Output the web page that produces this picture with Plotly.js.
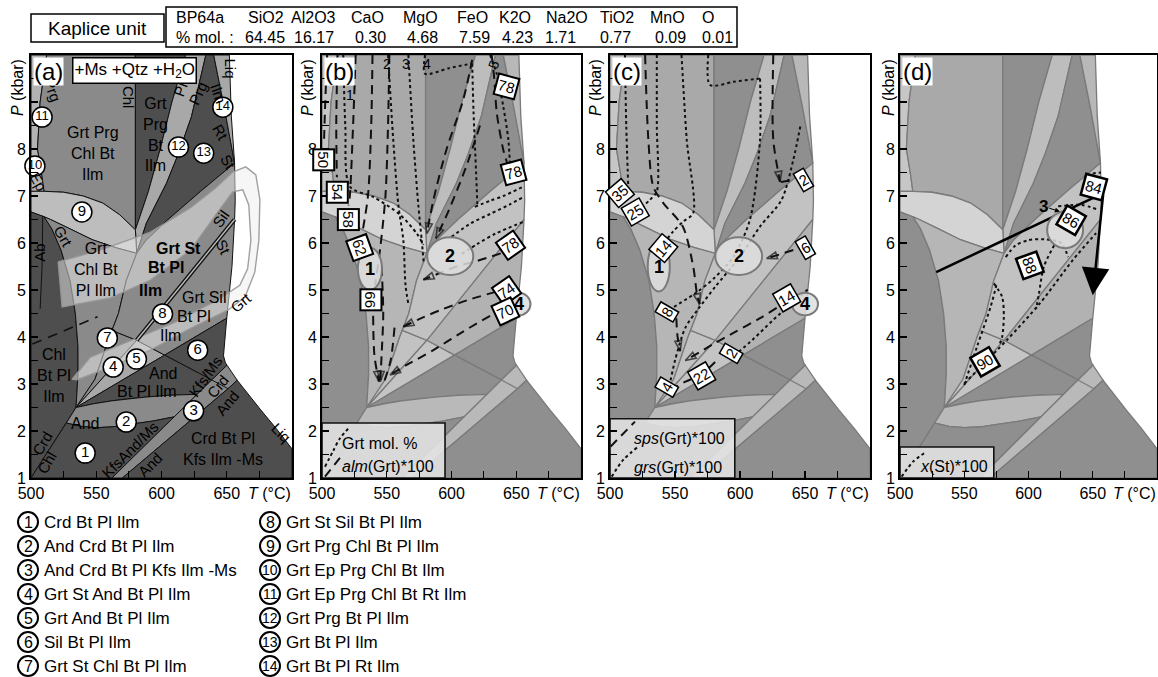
<!DOCTYPE html>
<html>
<head>
<meta charset="utf-8">
<script src="https://cdn.plot.ly/plotly-3.0.1.min.js"></script>
<style>
html,body{margin:0;padding:0;background:#ffffff;}
#chart{width:1158px;height:677px;}
</style>
</head>
<body>
<div id="chart"></div>
<script>
// ================= DATA =================
const unitName = 'Kaplice unit';
const sampleName = 'BP64a';
const oxides = ['SiO2','Al2O3','CaO','MgO','FeO','K2O','Na2O','TiO2','MnO','O'];
const oxideMol = ['64.45','16.17','0.30','4.68','7.59','4.23','1.71','0.77','0.09','0.01'];

const tTicks = [500,525,550,575,600,625,650,675,700];
const tTickText = ['500',' ','550',' ','600',' ','650',' ',' '];
const pTicks = [1,1.5,2,2.5,3,3.5,4,4.5,5,5.5,6,6.5,7,7.5,8,8.5,9,9.5,10];
const pTickText = ['1',' ','2',' ','3',' ','4',' ','5',' ','6',' ','7',' ','8',' ',' ',' ',' '];

// ---- pseudosection fields [T (°C), P (kbar)] ----
const fTopStrip = [[500,10],[512,10],[507,9],[505,8],[508,7.5],[510,7.1],[500,7.1]];
const fGrtPrgChlBtIlm = [[512,10],[580,10],[580,6.28],[568,6.6],[555,6.85],[540,7.0],[525,7.08],[510,7.1],[508,7.5],[505,8],[507,9]];
const fGrtPrgBtIlm = [[580,10],[618.5,10],[608,9],[599,8],[590,7.1],[580,6.28]];
const fGrtPrgBtPlIlm = [[618.5,10],[634,10],[623,8.69],[613,7.9],[603.8,7.27],[588.4,6.42],[581,5.78],[580,6.28],[590,7.1],[599,8],[608,9]];
const fGrtBtPlIlm = [[634,10],[640,10],[648,8.9],[656,7.7],[630,7.1],[605,6.5],[588,6.05],[581,5.78],[588.4,6.42],[603.8,7.27],[613,7.9],[623,8.69]];
const fGrtBtPlRtIlm = [[640,10],[652,10],[653.5,8.7],[655.6,7.8],[656,7.7],[648,8.9]];
const fGrtPrgChlBtPlIlm = [[500,7.1],[510,7.1],[525,7.08],[540,7.0],[555,6.85],[568,6.6],[580,6.28],[581,5.78],[565,5.9],[547,6.07],[530,6.3],[515,6.5],[500,6.66]];
const fChlBtPlIlm = [[500,6.66],[510,6.56],[516,6.3],[523,5.85],[530,5.2],[534,4.5],[536,3.8],[536,3.2],[534.5,2.5],[500,1]];
const fGrtChlBtPlIlm = [[510,6.56],[515,6.5],[530,6.3],[547,6.07],[565,5.9],[581,5.78],[573,5.2],[567,4.5],[560,4.0],[549,3.1],[534.5,2.5],[536,3.2],[536,3.8],[534,4.5],[530,5.2],[523,5.85],[516,6.3]];
const fGrtStAndBtPlIlm = [[534.5,2.5],[581,3.93],[562,4.14],[560,4.0],[549,3.1]];
const fGrtAndBtPlIlm = [[534.5,2.5],[602.4,3.615],[581,3.93]];
const fGrtStBtPlIlm = [[581,5.78],[588,6.05],[605,6.5],[630,7.1],[656,7.7],[656.5,6.9],[656,6.5],[581,3.93],[562,4.14],[567,4.5],[573,5.2]];
const fGrtSilBtPlIlm = [[581,3.93],[656,6.5],[654,5.5],[650,4.4],[602.4,3.615]];
const fSilBtPlIlm = [[602.4,3.615],[650,4.4],[647.5,3.6],[649,3.45],[650.2,3.4],[638.5,3.086]];
const fAndBtPlIlm = [[534.5,2.5],[602.4,3.615],[638.5,3.086],[627.3,2.78],[605,2.76],[587.2,2.72],[575,2.69],[561.5,2.64],[548,2.58]];
const fAndCrdBtPlIlm = [[534.5,2.5],[548,2.58],[561.5,2.64],[575,2.69],[587.2,2.72],[605,2.76],[627.3,2.78],[609.7,2.3],[593,2.21],[575.6,2.14],[563,2.09],[550,2.07],[538,2.1],[527,2.17]];
const fCrdBtPlIlm = [[500,1],[562,1],[609.7,2.3],[593,2.21],[575.6,2.14],[563,2.09],[550,2.07],[538,2.1],[527,2.17]];
const fAndCrdBtPlKfsIlm = [[562,1],[570,1],[651,2.9],[658,3.08],[650.2,3.4],[638.5,3.086]];
const fCrdBtPlKfsIlm = [[570,1],[700,1],[700,1.62],[688,2.05],[676,2.45],[660,3.0],[658,3.08],[651,2.9]];

const lnKfsMs = [[638.5,3.086],[651,2.9]];
const lnSil = [[581,3.93],[656,6.5]];
const lnAb = [[509,6.58],[508.5,5.5],[507,4.6]];
const lnDashA = [[501,3.85],[551,4.43]];

// translucent reaction-band overlay of panel (a)
const overlayBand = [[520.8,5.6],[553.1,5.85],[591.5,6.23],[622.3,6.75],[641.5,7.17],[654.6,7.51],[664.6,7.62],[672.3,7.45],[675.4,6.92],[674.6,6.06],[671.5,5.38],[664,4.85],[650.8,4.57],[620,4.15],[591.5,3.72],[560.8,3.36],[535.4,3.09],[531.5,3.1],[545.4,3.57],[578.5,3.94],[609.2,4.3],[643.1,4.79],[660,5.1],[666,5.45],[668.5,6.06],[666.9,6.81],[662.3,7.13],[654.6,7.09],[641.5,6.6],[622.3,5.85],[591.5,5.21],[560.8,4.83],[523.8,4.64]];

// numbered field markers of panel (a)
const fieldNo = ['1','2','3','4','5','6','7','8','9','10','11','12','13','14'];
const fieldNoT = [541.5,573,624.6,563,580.8,627.7,558.5,600.8,539,503,508.5,613,632.3,647];
const fieldNoP = [1.53,2.19,2.43,3.36,3.53,3.72,3.98,4.49,6.66,7.64,8.68,8.04,7.91,8.89];
const fieldNames = ['Crd Bt Pl Ilm','And Crd Bt Pl Ilm','And Crd Bt Pl Kfs Ilm -Ms','Grt St And Bt Pl Ilm','Grt And Bt Pl Ilm','Sil Bt Pl Ilm','Grt St Chl Bt Pl Ilm','Grt St Sil Bt Pl Ilm','Grt Prg Chl Bt Pl Ilm','Grt Ep Prg Chl Bt Ilm','Grt Ep Prg Chl Bt Rt Ilm','Grt Prg Bt Pl Ilm','Grt Bt Pl Ilm','Grt Bt Pl Rt Ilm'];

// panel (a) field labels
const aLabText = ['Prg','Chl','Pl','Prg','Ilm','Liq','Rt','St','Ep','Ab','Grt','Grt Prg<br>Chl Bt<br>Ilm','Grt<br>Prg<br>Bt<br>Ilm','Grt<br>Chl Bt<br>Pl Ilm','<b>Grt St</b>','<b>Bt Pl</b>','<b>Ilm</b>','Sil','St','Grt Sil','Bt Pl','Ilm','Grt','Chl<br>Bt Pl<br>Ilm','And','Bt Pl Ilm','Kfs/Ms','Crd','And','And','Crd','Chl','KfsAnd/Ms','And','Crd Bt Pl<br>Kfs Ilm -Ms','Liq'];
const aLabT = [516.2,574.6,614.6,627.7,643.8,653,645.4,651.5,505.4,506.9,524.6,547.7,595.4,550,613.1,603.1,591.5,645.4,647.7,632.3,624.6,606.9,660.8,518,601.5,589.2,633.8,643.1,650.8,541.5,508.5,512.3,576.2,591.5,646.9,691.5];
const aLabP = [9.26,9.1,9.26,9.19,9.19,9.72,8.36,7.72,7.3,5.79,6.13,7.91,8.3,5.43,5.89,5.47,5.0,6.53,5.91,4.85,4.43,4.04,4.74,3.19,3.23,2.83,3.15,2.94,2.6,2.17,1.74,1.32,1.6,1.28,1.62,1.96];
const aLabAng = [70,90,-70,-65,70,90,60,60,60,-90,60,0,0,0,0,0,0,-55,65,0,0,0,-40,0,0,0,-55,-50,-50,0,-60,-60,-45,-45,0,45];

// ---- panel (b): Grt mode (dotted) and alm(Grt)*100 (dashed) ----
const bGrt1 = [[516.4,10],[518,8.5],[521.5,7.2],[539.6,6.98],[560.3,6.6],[573.2,6.2],[578.3,5.96]];
const bGrt2 = [[551,10],[555,8.2],[559,6.8],[562.8,6.06],[564.5,5.1],[566.7,4.7]];
const bGrt3 = [[566.7,10],[570.5,8.2],[574.4,6.8],[577,6.06],[578.5,5.6]];
const bGrt4 = [[579.6,10],[579.6,9.6],[598,9.72],[616,9.82]];
const bGrt4b = [[616,9.82],[617,8.8],[619,7.5],[620,6.8]];
const bGrt5 = [[629.8,10],[634.9,9.6],[640,8.9],[643.9,8.2],[645.2,7.62]];
const bGrtSt1 = [[600,6.13],[615,6.42],[630,6.62],[645,6.82],[655.5,6.98]];
const bGrtSt2 = [[618,6.77],[630,6.9],[640,7.0],[655.5,7.2]];
const bGrtSt3 = [[607.9,5.77],[620,5.98],[634,6.2],[655.5,6.45]];
const bGrtNo = ['1','2','3','4','5'];
const bGrtNoT = [521.6,549.9,564.8,581,633];
const bGrtNoP = [9.15,9.8,9.8,9.8,9.8];

const bAlm50 = [[504,10],[502.5,9],[501.5,8.1]];
const bAlm54 = [[512,10],[511,8.5],[511.5,7.4]];
const bAlm58 = [[526,10],[524,8.5],[521.5,7.0],[520.5,6.8]];
const bAlm62 = [[539,10],[538,8.5],[535.5,7.0],[531,6.2]];
const bAlm66 = [[552,10],[551,8.5],[549,7.0],[545,5.9],[541,5.1]];
const bAlm66b = [[539.5,4.45],[540.5,3.6],[544,3.05]];
const bAlm66c = [[546,5.5],[547.3,4.5],[546,3.6],[545,3.05]];
const bAlm66d = [[556,4.2],[553,3.5],[548,3.05]];
const bAlm78a = [[631,10],[633,9.5],[635,8.76],[640,7.98],[643,7.7]];
const bAlm78b = [[638,5.78],[620,5.62],[604,5.5],[590,5.35],[578.3,5.22]];
const bAlm74 = [[634,4.96],[612,4.78],[591.2,4.57],[575,4.38],[562.8,4.22]];
const bAlm70 = [[629.8,4.45],[608,4.1],[586,3.72],[565,3.4],[552.5,3.19]];
const bAlmS1 = [[616,9.9],[609,9.04],[596,7.98],[586,6.91],[581,6.2]];
const bAlmS2 = [[622,8.5],[611,7.6],[598,6.7],[588,6.1]];
const bAlmLab = ['50','54','58','62','66','78','78','78','74','70'];
const bAlmLabT = [501.5,511.6,520,529,537.5,642.7,647.8,645.2,642.7,641.4];
const bAlmLabP = [7.76,7.09,6.49,5.9,4.79,9.33,7.51,5.95,4.99,4.54];
const bAlmLabAng = [90,90,90,70,90,15,-15,-35,-35,-25];

// ellipses (assemblages 1, 2, 4 in b, c; 3 in d)
const ellBT = [537,599,652], ellBP = [5.45,5.72,4.7], ellBrT = [9.3,17.8,9], ellBrP = [0.45,0.4,0.24], ellBLab = ['1','2','4'];
const ellCT = [537.5,599,650], ellCP = [5.5,5.72,4.7], ellCrT = [8.5,18,10], ellCrP = [0.53,0.4,0.24], ellCLab = ['1','2','4'];
const ellDT = [628.5], ellDP = [6.28], ellDrT = [14], ellDrP = [0.39];

// ---- panel (c): sps(Grt)*100 (dashed) and grs(Grt)*100 (dotted) ----
const cSps1 = [[527,10],[529.5,8.2],[533.3,7.2],[541,6.85],[556,6.35],[564,5.5],[567,4.9],[569,4.7]];
const cSps2 = [[625.6,10],[625.6,8.2],[630.8,7.3]];
const cSps2b = [[631.5,7.3],[640,7.34]];
const cSps3 = [[641,5.85],[620.5,5.67]];
const cSps4 = [[628.2,4.62],[615.4,4.4],[597,4.12],[579.5,3.85],[558,3.5]];
const cSps5 = [[546,2.87],[558,3.05],[570,3.2],[582,3.5]];
const cSps6 = [[551,4.4],[552,4.0],[554,3.7]];
const cGrs35 = [[511.5,10],[512.5,8.5],[514,7.25]];
const cGrs25 = [[536,10],[536,8.5],[536,7.1],[530,6.9],[523,6.72]];
const cGrs14 = [[555,10],[559,8.2],[564,6.64],[556,6.45],[548.7,6.25],[543,6.05]];
const cGrs4top = [[575.6,10],[577,9.36],[595,9.43],[615.4,9.5]];
const cGrsA = [[615.4,9.5],[615.4,8.2],[607.7,6.5],[595,5.71],[580,5.25],[566.7,4.95],[548,4.62]];
const cGrsB = [[646.4,8.48],[641,7.77],[632,6.92],[615.4,6.35],[600,5.71],[581,5.07],[568,4.6],[558,4.2],[550,3.5],[546,3.0]];
const cGrs2 = [[595.6,3.6],[610,3.95],[625,4.35],[640,4.72],[653.8,5.05]];
const cLab = ['35','25','14','8','4','22','2','14','2','6'];
const cLabT = [507.7,519.2,541,543.6,543.6,570.5,593.6,635.9,648.7,650];
const cLabP = [7.06,6.67,5.9,4.54,2.94,3.16,3.65,4.82,7.34,5.89];
const cLabAng = [-40,-30,-50,-60,-60,-30,-60,-30,-30,-30];

// ---- panel (d): x(St)*100 (dotted) and P-T path ----
const dSt84a = [[650,7.48],[656.4,7.5]];
const dSt84b = [[623.1,6.78],[641,6.81],[655.1,6.7]];
const dSt86 = [[582.3,5.7],[590,5.95],[600,6.06],[612,6.08],[625.4,6.0],[630.8,5.7]];
const dSt88a = [[573.1,5.14],[579.5,4.85],[580.8,4.43],[579.5,4.0],[577.7,3.86]];
const dSt88b = [[620,5.95],[612,5.5],[608,4.9],[606,4.6]];
const dSt90a = [[550,2.98],[560,3.8],[570.5,4.64],[575,5.1]];
const dSt90b = [[550,3.01],[583.3,3.94],[609,4.72],[634.6,5.64],[652.6,6.21]];
const dLab = ['84','86','88','90'];
const dLabT = [650.8,632.8,601.5,565.9];
const dLabP = [7.2,6.48,5.52,3.47];
const dLabAng = [15,30,70,-30];
const pathT = [528.2,658.2,650];
const pathP = [5.38,7.06,4.89];

// legend boxes in b, c, d
const boxB = [[500,1],[595,1],[595,2.17],[500,2.17]];
const boxC = [[500,1],[596,1],[596,2.26],[500,2.26]];
const boxD = [[500,1],[573,1],[573,1.66],[500,1.66]];
const legSampleBdot = [[502.3,1.24],[508.7,1.58],[514,1.85],[521.6,2.09]];
const legSampleBdash = [[502.3,1.03],[516.5,1.52]];
const legSampleCdash = [[500.5,1.67],[519.2,2.2]];
const legSampleCdot = [[501.3,1.03],[510.3,1.39],[521.8,1.67]];
const legSampleDdot = [[501.3,1.03],[510.3,1.35],[520.5,1.56]];

// ================= STYLE / BUILD =================
const W = 1158, H = 677;
const PX = x => x / W, PY = y => 1 - y / H;
const FONT = 'Liberation Sans, Arial, Helvetica, sans-serif';
const panelL = [31, 322, 610, 900], panelR = [292, 581, 870, 1157];
const AX = [{x:'x',y:'y'},{x:'x2',y:'y2'},{x:'x3',y:'y3'},{x:'x4',y:'y4'}];

const fieldList = [
  [fTopStrip,'#b3b3b3','#c6c6c6'],
  [fGrtPrgChlBtIlm,'#8a8a8a','#a9a9a9'],
  [fGrtPrgBtIlm,'#4e4e4e','#8f8f8f'],
  [fGrtPrgBtPlIlm,'#a8a8a8','#bdbdbd'],
  [fGrtBtPlIlm,'#4e4e4e','#8f8f8f'],
  [fGrtBtPlRtIlm,'#a8a8a8','#b8b8b8'],
  [fGrtPrgChlBtPlIlm,'#bdbdbd','#d4d4d4'],
  [fChlBtPlIlm,'#4e4e4e','#8f8f8f'],
  [fGrtChlBtPlIlm,'#8a8a8a','#b6b6b6'],
  [fGrtStAndBtPlIlm,'#8a8a8a','#c2c2c2'],
  [fGrtAndBtPlIlm,'#a8a8a8','#c4c4c4'],
  [fGrtStBtPlIlm,'#8a8a8a','#c2c2c2'],
  [fGrtSilBtPlIlm,'#8a8a8a','#b2b2b2'],
  [fSilBtPlIlm,'#4e4e4e','#8f8f8f'],
  [fAndBtPlIlm,'#4e4e4e','#8f8f8f'],
  [fAndCrdBtPlIlm,'#8a8a8a','#b9b9b9'],
  [fCrdBtPlIlm,'#4e4e4e','#8f8f8f'],
  [fAndCrdBtPlKfsIlm,'#8a8a8a','#b9b9b9'],
  [fCrdBtPlKfsIlm,'#4e4e4e','#8f8f8f']
];

const traces = [];
const ann = [];
const shp = [];
const closed = pts => pts.concat([pts[0]]);

function addPoly(pts, ax, fill, lc, lw) {
  const c = closed(pts);
  traces.push({type:'scatter', mode: lw > 0 ? 'lines' : 'none', x:c.map(p=>p[0]), y:c.map(p=>p[1]),
    fill:'toself', fillcolor:fill, line:{color:lc || fill, width:lw || 0}, xaxis:ax.x, yaxis:ax.y,
    hoverinfo:'skip', showlegend:false});
}
function addLine(pts, ax, color, width, dash, smooth, arrow) {
  const t = {type:'scatter', mode: arrow ? 'lines+markers' : 'lines', x:pts.map(p=>p[0]), y:pts.map(p=>p[1]),
    line:{color:color, width:width, dash:dash || 'solid', shape: smooth ? 'spline' : 'linear', smoothing: 0.8},
    xaxis:ax.x, yaxis:ax.y, hoverinfo:'skip', showlegend:false};
  if (arrow) {
    t.marker = {symbol:'arrow-open', angleref:'previous', color:color,
      size: pts.map((p, k) => k === pts.length - 1 ? 11 : 0), line:{color:color, width:1.6}};
  }
  traces.push(t);
}
function txt(ax, T, P, text, opts) {
  ann.push(Object.assign({xref:ax.x, yref:ax.y, x:T, y:P, text:text, showarrow:false,
    xanchor:'center', yanchor:'middle',
    font:{family:FONT, size:16, color:'black'}}, opts || {}));
}
function ptxt(px, py, text, opts) {
  ann.push(Object.assign({xref:'paper', yref:'paper', x:PX(px), y:PY(py), text:text, showarrow:false,
    xanchor:'center', yanchor:'middle',
    font:{family:FONT, size:16, color:'black'}}, opts || {}));
}
function boxLab(ax, T, P, text, ang, bw) {
  ann.push({xref:ax.x, yref:ax.y, x:T, y:P, text:text, showarrow:false, textangle:ang,
    xanchor:'center', yanchor:'middle',
    font:{family:FONT, size:15, color:'black'}, bgcolor:'white', bordercolor:'black', borderwidth:bw || 2, borderpad:1});
}
function ellipse(ax, cT, cP, rT, rP) {
  shp.push({type:'circle', xref:ax.x, yref:ax.y, x0:cT - rT, x1:cT + rT, y0:cP - rP, y1:cP + rP,
    fillcolor:'rgba(222,222,222,0.85)', line:{color:'#7a7a7a', width:2}, layer:'above'});
}

// ---- fields in all four panels ----
AX.forEach((ax, i) => {
  fieldList.forEach(f => {
    if (i === 0) addPoly(f[0], ax, f[1], '#111111', 1);
    else addPoly(f[0], ax, f[2], '#7a7a7a', 1.3);
  });
  if (i === 0) {
    addLine(lnKfsMs, ax, '#111111', 1);
    addLine(lnAb, ax, '#111111', 1);
  } else {
    addLine(lnKfsMs, ax, '#7a7a7a', 1.3);
  }
});

// ---- panel (a) overlays ----
const A = AX[0];
addPoly(overlayBand, A, 'rgba(238,238,238,0.5)', 'rgba(150,150,150,0.9)', 1.4);
addLine(lnSil, A, '#111111', 4.2);
addLine(lnSil, A, '#bdbdbd', 1.4);
addLine(lnDashA, A, '#111111', 1.6, '10px,7px');
traces.push({type:'scatter', mode:'markers+text', x:fieldNoT, y:fieldNoP, text:fieldNo,
  textposition:'middle center', cliponaxis:false,
  textfont:{family:FONT, size:fieldNo.map(s => s.length > 1 ? 13 : 15), color:'black'},
  marker:{size:20, color:'white', line:{color:'black', width:1.5}},
  xaxis:A.x, yaxis:A.y, hoverinfo:'skip', showlegend:false});
aLabText.forEach((t, i) => {
  txt(A, aLabT[i], aLabP[i], t, {textangle:aLabAng[i], font:{family:FONT, size:aLabAng[i] === 0 ? 16 : 15, color:'black'}});
});

// ---- panel (b) ----
const B = AX[1];
[bGrt1,bGrt2,bGrt3,bGrt4,bGrt4b,bGrt5,bGrtSt1,bGrtSt2,bGrtSt3].forEach(l => addLine(l, B, '#111111', 2, 'dot', true));
[bAlm50,bAlm54,bAlm58,bAlm62,bAlm66,bAlm66d,bAlm78a].forEach(l => addLine(l, B, '#111111', 2, '9px,6px', true));
[bAlm66b,bAlm66c,bAlm78b,bAlm74,bAlm70,bAlmS1,bAlmS2].forEach(l => addLine(l, B, '#111111', 2, '9px,6px', true, true));
bGrtNo.forEach((t, i) => txt(B, bGrtNoT[i], bGrtNoP[i], t, {font:{family:FONT, size:14, color:'black'}, textangle: i === 4 ? -70 : 0}));
ellBT.forEach((t, i) => { ellipse(B, t, ellBP[i], ellBrT[i], ellBrP[i]); });
bAlmLab.forEach((t, i) => boxLab(B, bAlmLabT[i], bAlmLabP[i], t, bAlmLabAng[i]));
ellBT.forEach((t, i) => txt(B, t, ellBP[i], '<b>' + ellBLab[i] + '</b>', {font:{family:FONT, size:18, color:'black'}}));
addPoly(boxB, B, 'rgba(228,228,228,0.88)', '#111111', 1.6);
addLine(legSampleBdot, B, '#111111', 2, 'dot', true);
addLine(legSampleBdash, B, '#111111', 2, '9px,6px');
txt(B, 514, 1.74, 'Grt mol. %', {xanchor:'left'});
txt(B, 514, 1.24, '<i>alm</i>(Grt)*100', {xanchor:'left'});

// ---- panel (c) ----
const C = AX[2];
[cGrs35,cGrs25,cGrs14,cGrs4top,cGrsA,cGrsB,cGrs2].forEach(l => addLine(l, C, '#111111', 2, 'dot', true));
[cSps5,cSps2b].forEach(l => addLine(l, C, '#111111', 2, '9px,6px', true));
[cSps1,cSps2,cSps3,cSps4,cSps6].forEach(l => addLine(l, C, '#111111', 2, '9px,6px', true, true));
ellCT.forEach((t, i) => { ellipse(C, t, ellCP[i], ellCrT[i], ellCrP[i]); });
cLab.forEach((t, i) => boxLab(C, cLabT[i], cLabP[i], t, cLabAng[i], 1.5));
ellCT.forEach((t, i) => txt(C, t, ellCP[i], '<b>' + ellCLab[i] + '</b>', {font:{family:FONT, size:18, color:'black'}}));
addPoly(boxC, C, 'rgba(228,228,228,0.88)', '#111111', 1.6);
addLine(legSampleCdash, C, '#111111', 2, '9px,6px');
addLine(legSampleCdot, C, '#111111', 2, 'dot', true);
txt(C, 517, 1.85, '<i>sps</i>(Grt)*100', {xanchor:'left'});
txt(C, 517, 1.22, '<i>grs</i>(Grt)*100', {xanchor:'left'});

// ---- panel (d) ----
const D = AX[3];
ellipse(D, ellDT[0], ellDP[0], ellDrT[0], ellDrP[0]);
[dSt84a,dSt84b,dSt86,dSt88a,dSt88b,dSt90a,dSt90b].forEach(l => addLine(l, D, '#111111', 2, 'dot', true));
traces.push({type:'scatter', mode:'lines', x:pathT.slice(0, 2), y:pathP.slice(0, 2), line:{color:'#000000', width:2.5},
  xaxis:D.x, yaxis:D.y, hoverinfo:'skip', showlegend:false});
ann.push({xref:D.x, yref:D.y, axref:D.x, ayref:D.y, x:pathT[2], y:pathP[2], ax:pathT[1], ay:pathP[1],
  text:'', showarrow:true, arrowhead:2, arrowsize:2.2, arrowwidth:2.5, arrowcolor:'#000000', standoff:0});
ann.push({xref:D.x, yref:D.y, axref:D.x, ayref:D.y, x:624.4, y:6.67, ax:611.5, ay:6.78,
  text:'<b>3</b>', showarrow:true, arrowhead:2, arrowsize:1, arrowwidth:1, arrowcolor:'#000000',
  font:{family:FONT, size:17, color:'black'}});
dLab.forEach((t, i) => boxLab(D, dLabT[i], dLabP[i], t, dLabAng[i], 2.5));
addPoly(boxD, D, 'rgba(228,228,228,0.88)', '#111111', 1.6);
addLine(legSampleDdot, D, '#111111', 2, 'dot', true);
txt(D, 514, 1.24, '<i>x</i>(St)*100', {xanchor:'left'});

// ---- panel titles and axis titles ----
['(a)','(b)','(c)','(d)'].forEach((t, i) => {
  ptxt(panelL[i] + 2, 57, t, {xanchor:'left', yanchor:'top', bgcolor:'white', borderpad:0,
    font:{family:FONT, size:24, color:'black'}});
  ptxt([18, 308, 596, 889][i], 88, '<i>P</i> (kbar)', {textangle:-90, font:{family:FONT, size:16, color:'black'}});
  ptxt(panelR[i] + 1, 493, '<i>T</i> (°C)', {xanchor:'right', font:{family:FONT, size:16, color:'black'}});
});
ptxt(134, 70, '+Ms +Qtz +H<sub>2</sub>O', {bgcolor:'white', bordercolor:'black', borderwidth:1.5, borderpad:1,
  font:{family:FONT, size:17, color:'black'}});

// ---- header ----
shp.push({type:'rect', xref:'paper', yref:'paper', x0:PX(31), x1:PX(164), y0:PY(42), y1:PY(14), line:{color:'black', width:1.5}});
shp.push({type:'rect', xref:'paper', yref:'paper', x0:PX(166), x1:PX(737), y0:PY(47), y1:PY(7), line:{color:'black', width:1.5}});
ptxt(97.5, 28, unitName, {font:{family:FONT, size:19, color:'black'}});
ptxt(174, 18, sampleName, {xanchor:'left', font:{family:FONT, size:16, color:'black'}});
ptxt(174, 37, '% mol. :', {xanchor:'left', font:{family:FONT, size:16, color:'black'}});
const oxX = [266, 313, 367, 420, 472, 515, 567, 617, 667, 708];
const molX = [265, 314, 370, 422, 474, 517, 560, 615, 670, 717];
oxides.forEach((o, i) => ptxt(oxX[i], 18, o, {font:{family:FONT, size:16, color:'black'}}));
oxideMol.forEach((v, i) => ptxt(molX[i], 37, v, {font:{family:FONT, size:16, color:'black'}}));

// ---- bottom legend of numbered fields ----
fieldNo.forEach((n, i) => {
  const col = i < 7 ? 0 : 1;
  const row = i % 7;
  const cx = col === 0 ? 28 : 270;
  const cy = 522 + 24 * row;
  shp.push({type:'circle', xref:'paper', yref:'paper', x0:PX(cx - 10), x1:PX(cx + 10), y0:PY(cy + 10), y1:PY(cy - 10),
    fillcolor:'white', line:{color:'black', width:2}});
  ptxt(cx, cy, n, {font:{family:FONT, size: n.length > 1 ? 14 : 16, color:'black'}});
  ptxt(cx + 14, cy, fieldNames[i], {xanchor:'left', font:{family:FONT, size:17, color:'black'}});
});

// ---- axes ----
const yDom = [PY(478), PY(55)];
function xAxis(i) {
  return {domain:[PX(panelL[i]), PX(panelR[i])], range:[500,700], anchor: i === 0 ? 'y' : 'y' + (i + 1),
    tickvals:tTicks, ticktext:tTickText, ticks:'inside', ticklen:7, tickwidth:1.2, tickcolor:'black',
    showline:true, mirror:true, linecolor:'black', linewidth:2, showgrid:false, zeroline:false,
    tickfont:{family:FONT, size:16, color:'black'}, fixedrange:true};
}
function yAxis(i) {
  return {domain:yDom, range:[1,10], anchor: i === 0 ? 'x' : 'x' + (i + 1),
    tickvals:pTicks, ticktext:pTickText, ticks:'inside', ticklen:7, tickwidth:1.2, tickcolor:'black',
    showline:true, mirror:true, linecolor:'black', linewidth:2, showgrid:false, zeroline:false,
    tickfont:{family:FONT, size:16, color:'black'}, fixedrange:true};
}

const layout = {
  width:W, height:H, margin:{l:0, r:0, t:0, b:0}, paper_bgcolor:'white', plot_bgcolor:'white',
  showlegend:false, font:{family:FONT, color:'black'},
  xaxis:xAxis(0), xaxis2:xAxis(1), xaxis3:xAxis(2), xaxis4:xAxis(3),
  yaxis:yAxis(0), yaxis2:yAxis(1), yaxis3:yAxis(2), yaxis4:yAxis(3),
  annotations:ann, shapes:shp
};

Plotly.newPlot('chart', traces, layout, {displayModeBar:false, staticPlot:true});
</script>
</body>
</html>
